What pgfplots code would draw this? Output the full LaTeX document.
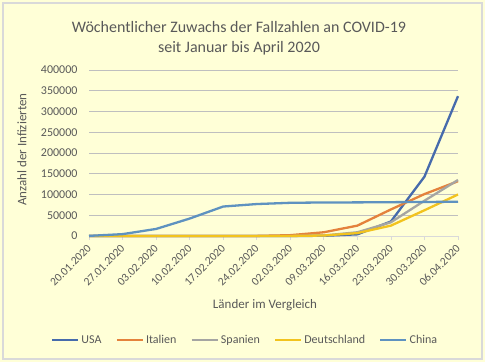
\documentclass[border=0pt]{standalone}
\usepackage{pgfplots}
\pgfplotsset{compat=1.18}
\usepackage{fontspec}
\setmainfont{Carlito}
\definecolor{bg}{RGB}{255,255,215}
\definecolor{txt}{RGB}{89,89,89}
\definecolor{grid}{RGB}{217,217,217}
\definecolor{cusa}{RGB}{70,107,172}
\definecolor{cita}{RGB}{228,130,60}
\definecolor{cesp}{RGB}{165,165,162}
\definecolor{cger}{RGB}{242,195,30}
\definecolor{cchn}{RGB}{94,146,192}
\begin{document}
\begin{tikzpicture}[x=1pt,y=1pt]
\fill[bg] (0,0) rectangle (485,362);
\draw[grid,line width=1.2pt] (3,3) rectangle (482,359);
\node[txt,font=\fontsize{16}{19.5}\selectfont,align=center] at (239,324) {Wöchentlicher Zuwachs der Fallzahlen an COVID-19\\seit Januar bis April 2020};
\begin{axis}[at={(89pt,126pt)},anchor=south west,
  width=369pt,height=166pt,scale only axis,
  xmin=0,xmax=11,ymin=0,ymax=400000,
  xtick={0,...,11},
  xticklabels={20.01.2020,27.01.2020,03.02.2020,10.02.2020,17.02.2020,24.02.2020,02.03.2020,09.03.2020,16.03.2020,23.03.2020,30.03.2020,06.04.2020},
  ytick={0,50000,...,400000},
  scaled y ticks=false,
  yticklabel style={/pgf/number format/fixed,/pgf/number format/1000 sep={},/pgf/number format/assume math mode=true,font=\fontsize{12}{14}\selectfont,text=txt,xshift=-4pt},
  xticklabel style={font=\fontsize{11.5}{14}\selectfont,text=txt,inner sep=1pt,xshift=1pt,yshift=-6pt,rotate=45,anchor=east},
  ymajorgrids,
  xmajorgrids=false,
  grid style={grid,line width=0.8pt},
  axis x line*=bottom,
  axis y line*=left,
  y axis line style={draw=none},
  x axis line style={grid,line width=0.8pt,-},
  xtick style={grid,line width=0.8pt},
  tick align=outside,
  major tick length=4pt,
  ytick style={draw=none},
  xlabel={Länder im Vergleich},
  ylabel={Anzahl der Infizierten},
  xlabel style={at={(axis description cs:0.477,-0.416)},anchor=center,font=\fontsize{13}{15}\selectfont,text=txt},
  ylabel style={at={(axis description cs:-0.182,0.52)},anchor=center,font=\fontsize{13}{15}\selectfont,text=txt},
  legend style={at={(axis description cs:0.423,-0.627)},anchor=center,draw=none,fill=none,legend columns=5,font=\fontsize{12}{14}\selectfont,text=txt,
    /tikz/every even column/.append style={column sep=12pt}},
  legend image code/.code={\draw[#1,line width=2.5pt] (0pt,0pt) -- (26pt,0pt);},
  clip=false,
  every axis plot/.append style={line width=2.3pt,no marks,line join=round},
]
\addplot[cusa] coordinates {(0,0)(1,0)(2,0)(3,0)(4,0)(5,0)(6,100)(7,500)(8,4000)(9,35000)(10,143000)(11,337000)};
\addplot[cita] coordinates {(0,0)(1,0)(2,0)(3,0)(4,0)(5,200)(6,2000)(7,9000)(8,25000)(9,64000)(10,101000)(11,132000)};
\addplot[cesp] coordinates {(0,0)(1,0)(2,0)(3,0)(4,0)(5,0)(6,100)(7,1200)(8,9000)(9,33000)(10,85000)(11,135000)};
\addplot[cger] coordinates {(0,0)(1,0)(2,0)(3,0)(4,0)(5,20)(6,150)(7,1200)(8,7000)(9,25000)(10,62000)(11,100000)};
\addplot[cchn] coordinates {(0,300)(1,4500)(2,17000)(3,42000)(4,71000)(5,77000)(6,80000)(7,80800)(8,81000)(9,81500)(10,82000)(11,82500)};
\legend{USA,Italien,Spanien,Deutschland,China}
\end{axis}
\end{tikzpicture}
\end{document}
